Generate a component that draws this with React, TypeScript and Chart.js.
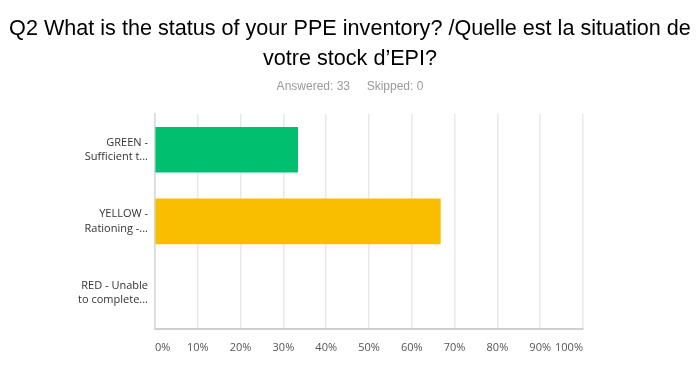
import React, { useEffect, useRef } from "react";
import { Chart, registerables } from "chart.js";

Chart.register(...registerables);

const categories: string[][] = [
  ["GREEN -", "Sufficient t..."],
  ["YELLOW -", "Rationing -..."],
  ["RED - Unable", "to complete..."],
];
const values: number[] = [33.33, 66.67, 0];
const barColors: string[] = ["#00bf6f", "#f9be00", "rgba(0,0,0,0)"];
const titleLines: string[] = [
  "Q2 What is the status of your PPE inventory? /Quelle est la situation de",
  "votre stock d\u2019EPI?",
];
const subtitleText = "Answered: 33     Skipped: 0";

export default function App() {
  const ref = useRef<HTMLCanvasElement | null>(null);
  useEffect(() => {
    if (!ref.current) return;
    const chart = new Chart(ref.current, {
      type: "bar",
      data: {
        labels: categories,
        datasets: [
          {
            data: values,
            backgroundColor: barColors,
            borderWidth: 0,
            barThickness: 45,
          },
        ],
      },
      options: {
        indexAxis: "y",
        animation: false,
        responsive: false,
        maintainAspectRatio: false,
        layout: { padding: 0 },
        plugins: {
          legend: { display: false },
          tooltip: { enabled: false },
          title: {
            display: true,
            text: titleLines,
            color: "#000",
            font: { family: "Liberation Sans", size: 21.6, weight: "normal", lineHeight: 1.4 },
            padding: { top: 14, bottom: 5 },
          },
          subtitle: {
            display: true,
            text: subtitleText,
            color: "#9a9a9a",
            font: { family: "'Liberation Sans Narrow', 'Liberation Sans'", size: 12, weight: "normal", lineHeight: 1.2 },
            padding: { top: 0, bottom: 20 },
          },
        },
        scales: {
          x: {
            min: 0,
            max: 100,
            ticks: {
              stepSize: 10,
              align: "inner",
              padding: 12,
              color: "#555",
              font: { family: "Open Sans", size: 11 },
              callback: (v: any) => v + "%",
            },
            grid: { color: "#e8e8e8", lineWidth: 1.5, drawTicks: false },
            border: { color: "#cfcfcf", width: 2 },
            afterFit: (s: any) => {
              s.height = 36;
            },
          },
          y: {
            ticks: {
              padding: 7,
              color: "#333",
              font: { family: "Open Sans", size: 11, lineHeight: 1.3 },
            },
            grid: { display: false, drawTicks: false },
            border: { color: "#d8d8d8", width: 1.5 },
            afterFit: (s: any) => {
              s.width = 155;
            },
          },
          yRight: {
            type: "category",
            position: "right",
            ticks: { display: false },
            grid: { display: false, drawTicks: false },
            border: { display: false },
            afterFit: (s: any) => {
              s.width = 117;
            },
          },
        },
      },
    });
    return () => chart.destroy();
  }, []);
  return (
    <div style={{ position: "absolute", left: 0, top: 0, width: 700, height: 365, background: "#fff" }}>
      <canvas ref={ref} width={700} height={365} style={{ width: 700, height: 365, display: "block" }} />
    </div>
  );
}
